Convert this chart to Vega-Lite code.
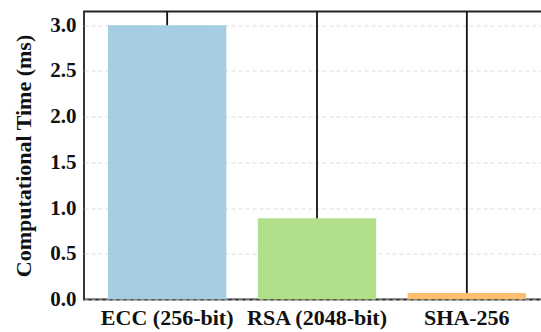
{
  "$schema": "https://vega.github.io/schema/vega-lite/v6.json",
  "autosize": "none",
  "padding": {"left": 84, "top": 11.5, "right": 0, "bottom": 32},
  "width": 466,
  "height": 288,
  "background": "white",
  "config": {
    "view": {"stroke": "#222", "strokeWidth": 1.8},
    "font": "Liberation Serif"
  },
  "data": {
    "values": [
      {"algo": "ECC (256-bit)", "time": 3.0, "upper": 6.0},
      {"algo": "RSA (2048-bit)", "time": 0.89, "upper": 6.0},
      {"algo": "SHA-256", "time": 0.072, "upper": 6.0}
    ]
  },
  "encoding": {
    "x": {
      "field": "algo",
      "type": "nominal",
      "sort": null,
      "scale": {"paddingInner": 0.21, "paddingOuter": 0.16},
      "axis": {
        "title": null,
        "labelAngle": 0,
        "labelFont": "Liberation Serif",
        "labelFontWeight": "bold",
        "labelFontSize": 22,
        "labelColor": "#111",
        "labelPadding": 8,
        "ticks": false,
        "domain": false
      }
    }
  },
  "layer": [
    {
      "mark": {"type": "bar", "clip": true},
      "encoding": {
        "y": {
          "field": "time",
          "type": "quantitative",
          "scale": {"domain": [0, 3.15], "nice": false},
          "axis": {
            "title": "Computational Time (ms)",
            "titleFont": "Liberation Serif",
            "titleFontWeight": "bold",
            "titleFontSize": 22,
            "titleColor": "#111",
            "titlePadding": 14,
            "values": [0, 0.5, 1, 1.5, 2, 2.5, 3],
            "format": ".1f",
            "labelFont": "Liberation Serif",
            "labelFontWeight": "bold",
            "labelFontSize": 21,
            "labelColor": "#111",
            "labelPadding": 8,
            "ticks": false,
            "domain": false,
            "grid": true,
            "gridColor": "#dcdcdc",
            "gridDash": [4, 3],
            "gridWidth": 1
          }
        },
        "color": {
          "field": "algo",
          "type": "nominal",
          "sort": null,
          "scale": {"range": ["#a6cee3", "#b2df8a", "#fdbf6f"]},
          "legend": null
        }
      }
    },
    {
      "mark": {"type": "rule", "clip": true, "color": "#111", "strokeWidth": 1.8},
      "encoding": {
        "y": {"field": "time", "type": "quantitative"},
        "y2": {"field": "upper"}
      }
    }
  ]
}
